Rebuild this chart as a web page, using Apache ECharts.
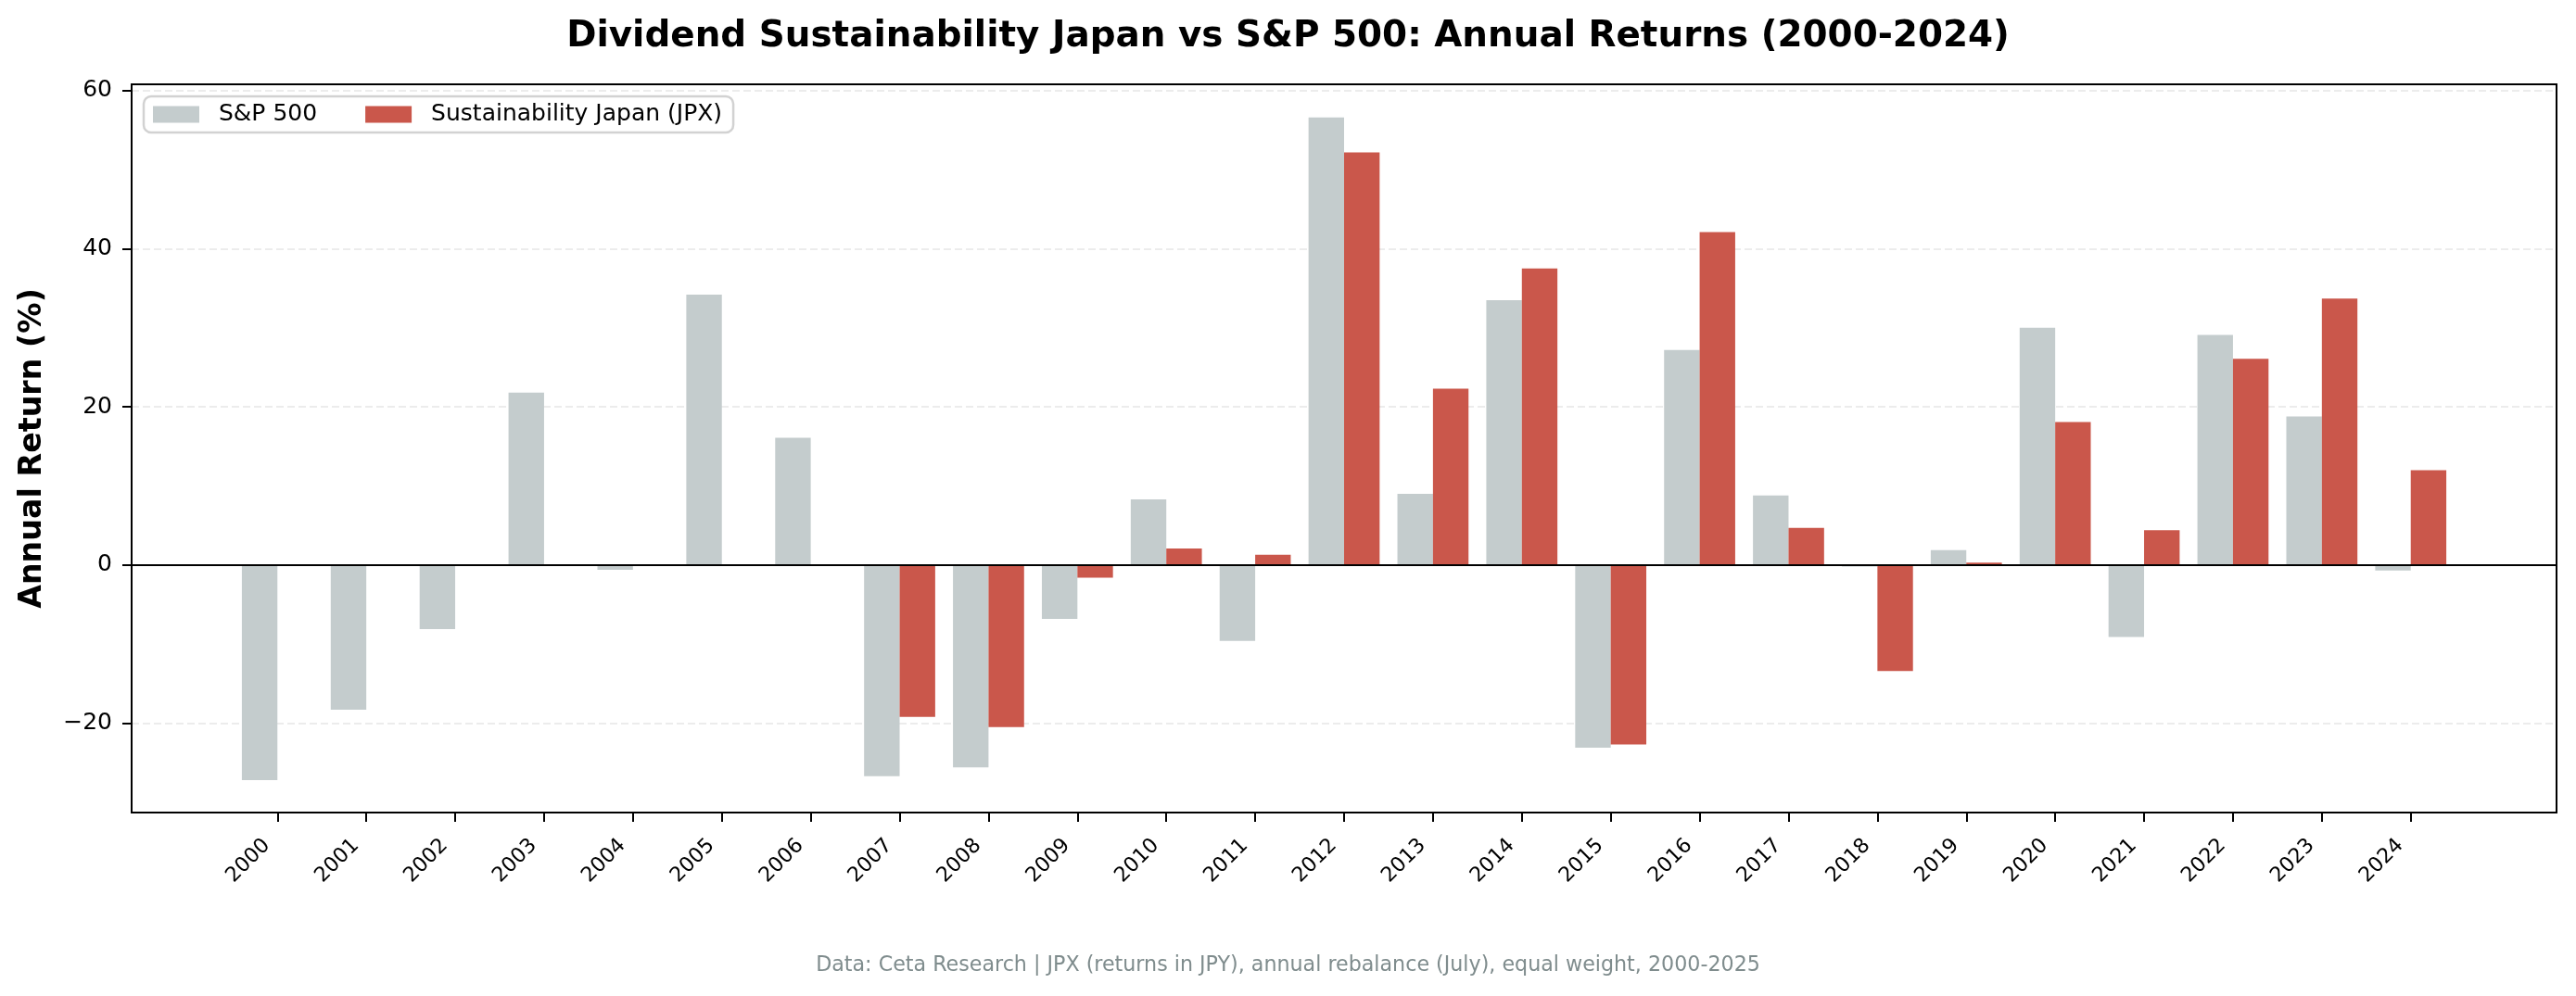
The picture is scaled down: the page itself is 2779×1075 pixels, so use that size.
<!DOCTYPE html>
<html>
<head>
<meta charset="utf-8">
<script src="https://cdn.jsdelivr.net/npm/echarts@6/dist/echarts.min.js"></script>
<style>
html, body { margin: 0; padding: 0; background: #ffffff; }
#chart { width: 2779px; height: 1075px; }
</style>
</head>
<body>
<div id="chart"></div>
<script>
const years = ['2000','2001','2002','2003','2004','2005','2006','2007','2008','2009','2010','2011','2012','2013','2014','2015','2016','2017','2018','2019','2020','2021','2022','2023','2024'];
const sp500 = [-27.2, -18.3, -8.1, 21.8, -0.6, 34.2, 16.1, -26.7, -25.6, -6.8, 8.3, -9.6, 56.6, 9.0, 33.5, -23.1, 27.2, 8.8, -0.2, 1.9, 30.0, -9.1, 29.1, 18.8, -0.7];
const jpx = [null, null, null, null, null, null, null, -19.2, -20.5, -1.6, 2.1, 1.3, 52.2, 22.3, 37.5, -22.7, 42.1, 4.7, -13.4, 0.3, 18.1, 4.4, 26.1, 33.7, 12.0];
const yTicks = [-20, 0, 20, 40, 60];
const seriesNames = ['S&P 500', 'Sustainability Japan (JPX)'];
const titleText = 'Dividend Sustainability Japan vs S&P 500: Annual Returns (2000-2024)';
const yAxisTitle = 'Annual Return (%)';
const footerText = 'Data: Ceta Research | JPX (returns in JPY), annual rebalance (July), equal weight, 2000-2025';

const yearIdx = years.map((_, i) => i);
const toPairs = arr => arr.map((v, i) => [i, v === null ? '-' : v]);
const FONT = 'DejaVu Sans';

const chart = echarts.init(document.getElementById('chart'), null, { renderer: 'canvas' });
chart.setOption({
  backgroundColor: '#ffffff',
  animation: false,
  textStyle: { fontFamily: FONT },
  title: [
    {
      text: titleText,
      left: 'center',
      top: 20,
      padding: [0, 0, 0, 121],
      textStyle: { fontFamily: FONT, fontSize: 38.9, fontWeight: 'bold', color: '#000000' }
    },
    {
      text: footerText,
      left: 'center',
      top: 1031,
      padding: 0,
      textStyle: { fontFamily: FONT, fontSize: 22.2, fontWeight: 'normal', color: '#7f8c8d' }
    }
  ],
  legend: {
    left: 155,
    top: 104,
    orient: 'horizontal',
    icon: 'rect',
    itemWidth: 50,
    itemHeight: 18,
    itemGap: 52,
    padding: [7, 12, 7, 10],
    backgroundColor: 'rgba(255,255,255,0.8)',
    borderColor: '#d2d2d2',
    borderWidth: 2.5,
    borderRadius: 8,
    textStyle: { fontFamily: FONT, fontSize: 25, color: '#000000', padding: [0, 0, 0, 16] },
    data: seriesNames
  },
  grid: {
    left: 142,
    right: 21,
    top: 91,
    bottom: 198,
    show: true,
    borderColor: '#000000',
    borderWidth: 2,
    backgroundColor: 'transparent'
  },
  xAxis: {
    type: 'value',
    min: -1.64,
    max: 25.64,
    axisLine: { show: true, onZero: false, lineStyle: { color: '#000000', width: 2 } },
    axisTick: { show: true, customValues: yearIdx, length: 10, lineStyle: { color: '#000000', width: 2 } },
    axisLabel: {
      show: true,
      customValues: yearIdx,
      rotate: 45,
      margin: 21,
      padding: [0, 16, 0, 0],
      fontFamily: FONT,
      fontSize: 22.2,
      color: '#000000',
      formatter: v => years[Math.round(v)]
    },
    splitLine: { show: false }
  },
  yAxis: {
    type: 'value',
    min: -31.3,
    max: 60.8,
    name: yAxisTitle,
    nameLocation: 'middle',
    nameGap: 90,
    nameTextStyle: { fontFamily: FONT, fontSize: 33.3, fontWeight: 'bold', color: '#000000' },
    axisLine: { show: true, onZero: false, lineStyle: { color: '#000000', width: 2 } },
    axisTick: { show: true, customValues: yTicks, length: 10, lineStyle: { color: '#000000', width: 2 } },
    axisLabel: {
      show: true,
      customValues: yTicks,
      margin: 21,
      fontFamily: FONT,
      fontSize: 25,
      color: '#000000',
      formatter: v => (v < 0 ? '\u2212' + Math.abs(v) : String(v))
    },
    splitLine: { show: true, lineStyle: { color: '#e6e6e6', width: 1.5, type: [8, 4] } }
  },
  series: [
    {
      name: seriesNames[0],
      type: 'bar',
      data: toPairs(sp500),
      barWidth: '40%',
      barGap: '0%',
      itemStyle: { color: '#c4cccd' },
      markLine: {
        silent: true,
        symbol: 'none',
        label: { show: false },
        lineStyle: { color: '#000000', width: 2, type: 'solid' },
        data: [{ yAxis: 0 }],
        z: 10
      }
    },
    {
      name: seriesNames[1],
      type: 'bar',
      data: toPairs(jpx),
      barWidth: '40%',
      barGap: '0%',
      itemStyle: { color: '#ca574b' }
    }
  ]
});
</script>
</body>
</html>
